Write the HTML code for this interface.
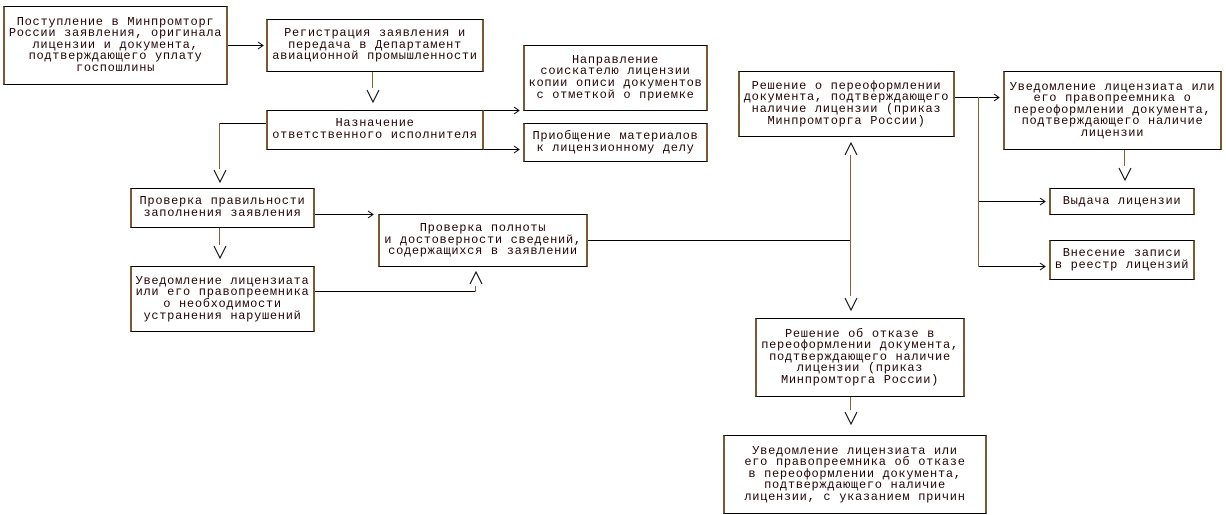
<!DOCTYPE html>
<html><head><meta charset="utf-8"><style>
body{margin:0;width:1226px;height:515px;background:#fff;position:relative;overflow:hidden}
.b{position:absolute;box-sizing:border-box;border:1px solid #000;border-left:2px solid #7a5a35;border-right:2px solid #7a5a35;background:#fff;display:flex;align-items:center;justify-content:center;font-family:"Liberation Mono","DejaVu Sans Mono",monospace;font-size:12px;letter-spacing:0.7px;line-height:11.6px;color:#200;white-space:pre;text-align:center}
svg{position:absolute;left:0;top:0}
</style></head><body>
<svg width="1226" height="515" fill="none" stroke="#000" stroke-width="1">
<g stroke="#000">
<line x1="227" y1="45.5" x2="262" y2="45.5"/><polyline points="258,42 263,45.5 258,49"/>
<line x1="266" y1="123.5" x2="219.5" y2="123.5"/>
<line x1="483" y1="110.5" x2="518" y2="110.5"/><polyline points="514,107 519,110.5 514,114"/>
<line x1="483" y1="149.5" x2="518" y2="149.5"/><polyline points="514,146 519,149.5 514,153"/>
<line x1="314" y1="214.5" x2="372" y2="214.5"/><polyline points="368,211 373,214.5 368,218"/>
<line x1="314" y1="291.5" x2="475.5" y2="291.5"/>
<line x1="587" y1="240.5" x2="850.5" y2="240.5"/>
<line x1="954" y1="97.5" x2="998" y2="97.5"/><polyline points="994,94 999,97.5 994,101"/>
<line x1="978.5" y1="201.5" x2="1044" y2="201.5"/><polyline points="1040,198 1045,201.5 1040,205"/>
<line x1="978.5" y1="266.5" x2="1044" y2="266.5"/><polyline points="1040,263 1045,266.5 1040,270"/>
</g>
<g stroke="#8a6030">
<line x1="372.5" y1="71" x2="372.5" y2="88"/>
<line x1="219.5" y1="123" x2="219.5" y2="169"/>
<line x1="219.5" y1="227" x2="219.5" y2="245"/>
<line x1="475.5" y1="291" x2="475.5" y2="286"/>
<line x1="850.5" y1="155" x2="850.5" y2="296"/>
<line x1="978.5" y1="97" x2="978.5" y2="266"/>
<line x1="1124.5" y1="149" x2="1124.5" y2="166"/>
<line x1="850.5" y1="396" x2="850.5" y2="410"/>
</g>
<g stroke="#000">
<polyline points="367,90 373,102 379,90"/>
<polyline points="214,170 220,182 226,170"/>
<polyline points="214,246 220,258 226,246"/>
<polyline points="470,284 476,272 482,284"/>
<polyline points="845,155 851,143 857,155"/>
<polyline points="845,298 851,310 857,298"/>
<polyline points="1119,168 1125,180 1131,168"/>
<polyline points="845,412 851,424 857,412"/>
</g>
</svg>
<div class="b" style="left:3px;top:6px;width:225px;height:79px">Поступление в Минпромторг
России заявления, оригинала
лицензии и документа,
подтверждающего уплату
госпошлины</div>
<div class="b" style="left:266px;top:19px;width:218px;height:53px">Регистрация заявления и
передача в Департамент
авиационной промышленности</div>
<div class="b" style="left:266px;top:110px;width:218px;height:40px">Назначение
ответственного исполнителя</div>
<div class="b" style="left:523px;top:45px;width:185px;height:66px">Направление
соискателю лицензии
копии описи документов
с отметкой о приемке</div>
<div class="b" style="left:523px;top:123px;width:185px;height:39px">Приобщение материалов
к лицензионному делу</div>
<div class="b" style="left:130px;top:188px;width:185px;height:40px">Проверка правильности
заполнения заявления</div>
<div class="b" style="left:378px;top:214px;width:210px;height:53px">Проверка полноты
и достоверности сведений,
содержащихся в заявлении</div>
<div class="b" style="left:130px;top:266px;width:185px;height:66px">Уведомление лицензиата
или его правопреемника
о необходимости
устранения нарушений</div>
<div class="b" style="left:738px;top:71px;width:217px;height:66px">Решение о переоформлении
документа, подтверждающего
наличие лицензии (приказ
Минпромторга России)</div>
<div class="b" style="left:1003px;top:71px;width:219px;height:79px">Уведомление лицензиата или
его правопреемника о
переоформлении документа,
подтверждающего наличие
лицензии</div>
<div class="b" style="left:1049px;top:188px;width:146px;height:27px">Выдача лицензии</div>
<div class="b" style="left:1049px;top:240px;width:146px;height:40px">Внесение записи
в реестр лицензий</div>
<div class="b" style="left:755px;top:318px;width:210px;height:79px">Решение об отказе в
переоформлении документа,
подтверждающего наличие
лицензии (приказ
Минпромторга России)</div>
<div class="b" style="left:723px;top:435px;width:264px;height:79px">Уведомление лицензиата или
его правопреемника об отказе
в переоформлении документа,
подтверждающего наличие
лицензии, с указанием причин</div>
</body></html>
